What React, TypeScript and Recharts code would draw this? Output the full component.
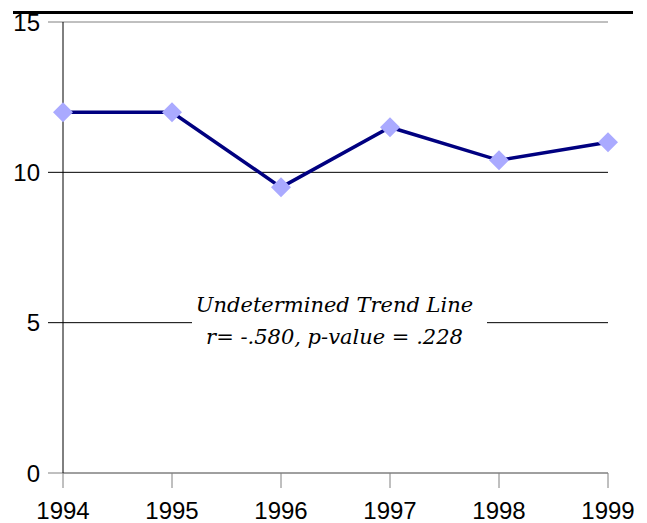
import React from 'react';
import { LineChart, Line, XAxis, YAxis, CartesianGrid } from 'recharts';

const years = [1994, 1995, 1996, 1997, 1998, 1999];
const values = [12, 12, 9.5, 11.5, 10.4, 11];
const yTicks = [0, 5, 10, 15];

const data = years.map((year, i) => ({ year, value: values[i] }));

const axisFont = { fill: '#000', fontSize: 24, fontFamily: '"Liberation Sans", Arial, sans-serif' };

// diamond marker
const Diamond = (props: any) => {
  const { cx, cy } = props;
  if (cx == null || cy == null) return null;
  const r = 10;
  return (
    <polygon
      points={`${cx},${cy - r} ${cx + r},${cy} ${cx},${cy + r} ${cx - r},${cy}`}
      fill="#aaaaff"
    />
  );
};

// gridlines run a bit past the y axis (they double as tick marks)
const GridLine = (props: any) => {
  const { x1, x2, y1, y2, index } = props;
  const edge = y1 <= 23 || y1 >= 472;
  return (
    <line
      key={`h-${index}`}
      x1={x1 - 15}
      x2={x2}
      y1={y1}
      y2={y2}
      stroke={edge ? '#808080' : '#000'}
      strokeWidth={1}
    />
  );
};

export default function App() {
  return (
    <div style={{ position: 'absolute', left: 0, top: 0, width: 647, height: 523, background: '#fff' }}>
      <div style={{ position: 'absolute', left: 13, top: 11, width: 620, height: 3, background: '#000' }} />
      <LineChart
        width={647}
        height={523}
        data={data}
        margin={{ top: 22, right: 39, bottom: 20, left: 0 }}
      >
        <CartesianGrid vertical={false} horizontal={GridLine} />
        <XAxis
          dataKey="year"
          type="number"
          domain={[1994, 1999]}
          ticks={years}
          height={30}
          axisLine={{ stroke: '#808080' }}
          tickLine={{ stroke: '#808080' }}
          tickSize={15}
          tickMargin={14}
          tick={axisFont}
        />
        <YAxis
          width={63}
          domain={[0, 15]}
          ticks={yTicks}
          axisLine={{ stroke: '#000' }}
          tickLine={false}
          tickSize={15}
          tickMargin={8}
          tick={axisFont}
        />
        <Line
          dataKey="value"
          stroke="#000080"
          strokeWidth={3.5}
          dot={<Diamond />}
          activeDot={false}
          isAnimationActive={false}
        />
      </LineChart>
      <div
        style={{
          position: 'absolute',
          left: 192,
          top: 289,
          width: 295,
          height: 66,
          background: '#fff',
          fontFamily: '"DejaVu Serif", "Liberation Serif", serif',
          fontStyle: 'italic',
          fontSize: 21,
          lineHeight: '32px',
          color: '#000',
          textAlign: 'center',
          paddingRight: 10,
          boxSizing: 'border-box',
        }}
      >
        <div>Undetermined Trend Line</div>
        <div>r= -.580, p-value = .228</div>
      </div>
    </div>
  );
}
